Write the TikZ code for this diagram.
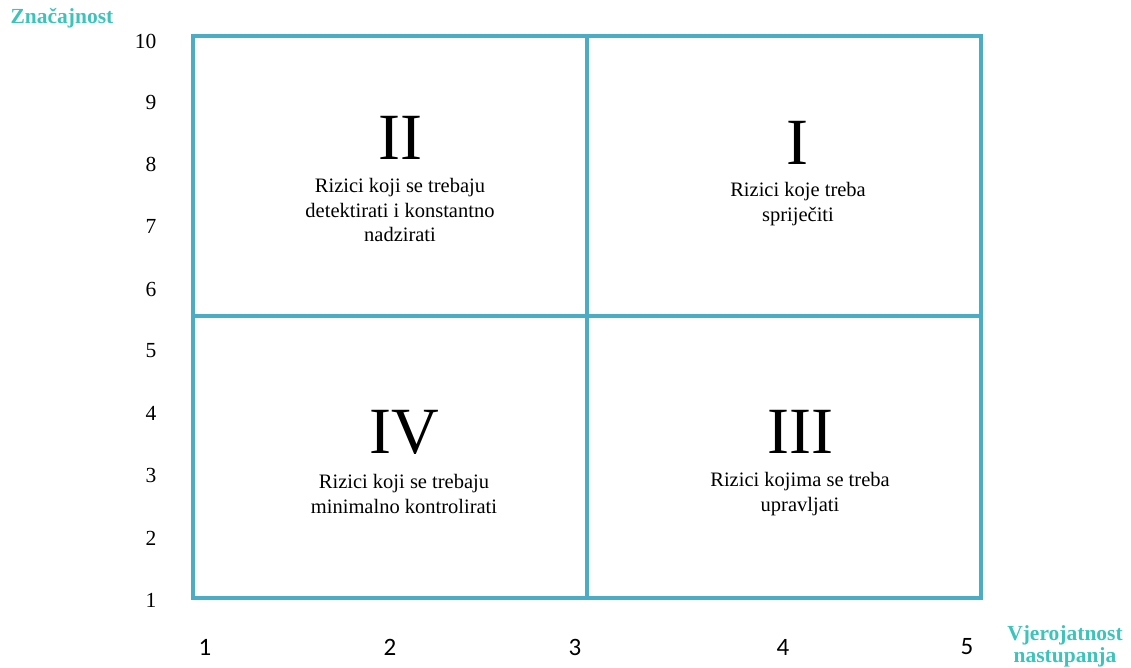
\documentclass[tikz,border=0pt]{standalone}
\usepackage{fontspec}
\setmainfont{Liberation Serif}
\newfontfamily\axisfont{Carlito}
\usetikzlibrary{positioning}
\definecolor{gridblue}{RGB}{75,172,198}
\definecolor{titleteal}{RGB}{60,196,186}

\begin{document}
\begin{tikzpicture}[
    x=1pt, y=-1pt,
    gridline/.style = {draw=gridblue, line width=3.2pt},
    numeral/.style = {font=\fontsize{66}{66}\selectfont},
    desc/.style = {align=center, font=\fontsize{20.5}{24.5}\selectfont},
    ytick/.style = {anchor=east, font=\fontsize{21.5}{21.5}\selectfont},
    xtick/.style = {font=\axisfont\fontsize{25}{25}\selectfont},
    axistitle/.style = {align=center, text=titleteal, font=\bfseries\fontsize{21.5}{22}\selectfont}
]

\useasboundingbox (0,0) rectangle (1131,668);

% Define coordinates for the grid
\coordinate (topleft)  at (193, 36);
\coordinate (botright) at (981,598);
\coordinate (midtop)   at (587, 36);
\coordinate (midbot)   at (587,598);
\coordinate (midleft)  at (193,316);
\coordinate (midright) at (981,316);

\draw[gridline] (topleft) rectangle (botright);
\draw[gridline] (midtop) -- (midbot);
\draw[gridline] (midleft) -- (midright);

% Quadrants
\node[numeral] (numII)  at (400,138) {II};
\node[desc]    (descII) at (400,210) {Rizici koji se trebaju\\detektirati i konstantno\\nadzirati};

\node[numeral] (numI)   at (797,143) {I};
\node[desc]    (descI)  at (798,204) {Rizici koje treba\\spriječiti};

\node[numeral] (numIV)  at (404,432) {IV};
\node[desc]    (descIV) at (404,494) {Rizici koji se trebaju\\minimalno kontrolirati};

\node[numeral] (numIII)  at (800,432) {III};
\node[desc]    (descIII) at (800,494) {Rizici kojima se treba\\upravljati};

% Axis ticks
\node[ytick] (y10) at (160, 41) {10};
\node[ytick] (y9)  at (160,102) {9};
\node[ytick] (y8)  at (160,164) {8};
\node[ytick] (y7)  at (160,226) {7};
\node[ytick] (y6)  at (160,289) {6};
\node[ytick] (y5)  at (160,351) {5};
\node[ytick] (y4)  at (160,413) {4};
\node[ytick] (y3)  at (160,475) {3};
\node[ytick] (y2)  at (160,538) {2};
\node[ytick] (y1)  at (160,600) {1};

\node[xtick] (x1) at (205,647) {1};
\node[xtick] (x2) at (390,647) {2};
\node[xtick] (x3) at (575,647) {3};
\node[xtick] (x4) at (783,647) {4};
\node[xtick] (x5) at (967,647) {5};

% Axis titles
\node[axistitle] (ytitle) at (62,18) {Značajnost};
\node[axistitle] (xtitle) at (1065,646) {Vjerojatnost\\nastupanja};

\end{tikzpicture}
\end{document}
